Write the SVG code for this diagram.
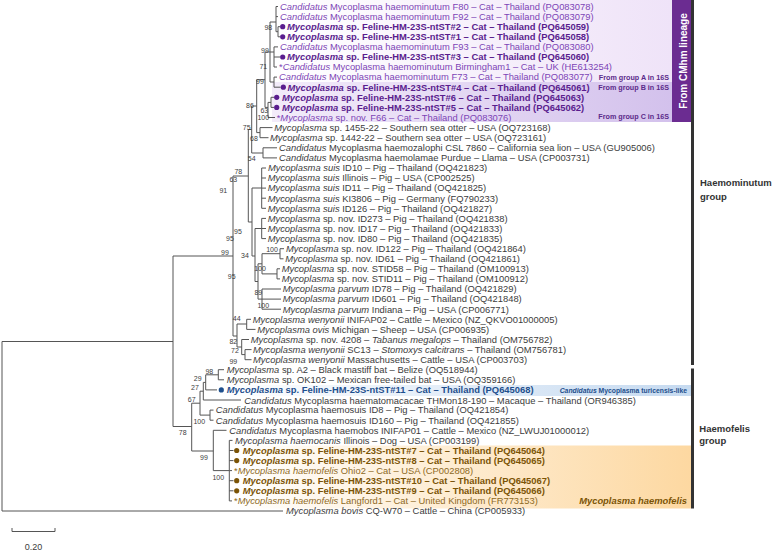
<svg xmlns="http://www.w3.org/2000/svg" width="778" height="552" viewBox="0 0 778 552">
<style>
.t{font-family:"Liberation Sans",Arial,Helvetica,sans-serif;font-size:9.4px;fill:#3c3c3c}
.i{font-style:italic}
.pu{fill:#7d45b6}
.pd{fill:#5a1d8e;font-weight:bold}
.bl{fill:#1e4f8d;font-weight:bold}
.bw{fill:#7b5406;font-weight:bold}
.bn{fill:#8e6a1f}
.bs{font-family:"Liberation Sans",Arial,sans-serif;font-size:7px;fill:#3c3c3c;text-anchor:middle}
.grp{font-family:"Liberation Sans",Arial,sans-serif;font-size:7.2px;font-weight:bold;fill:#5b2a8a;text-anchor:end}
.lab{font-family:"Liberation Sans",Arial,sans-serif;font-size:9.5px;font-weight:bold;fill:#333}
.br{stroke:#555;stroke-width:1;fill:none}
</style>
<defs>
<linearGradient id="gP1" x1="0" x2="1" y1="0" y2="0"><stop offset="0" stop-color="#ffffff"/><stop offset="1" stop-color="#efe3f8"/></linearGradient>
<linearGradient id="gP2" x1="0" x2="1" y1="0" y2="0"><stop offset="0" stop-color="#f3ecfa"/><stop offset="1" stop-color="#d3c1ec"/></linearGradient>
<linearGradient id="gB" x1="0" x2="1" y1="0" y2="0"><stop offset="0" stop-color="#ffffff"/><stop offset="1" stop-color="#c6daf0"/></linearGradient>
<linearGradient id="gO" x1="0" x2="1" y1="0" y2="0"><stop offset="0" stop-color="#ffffff"/><stop offset="1" stop-color="#fdd8a1"/></linearGradient>
</defs>
<g id="backgrounds">
<rect x="272" y="0" width="400" height="82" fill="url(#gP1)"/>
<rect x="272" y="82" width="400" height="40" fill="url(#gP2)"/>
<rect x="216" y="385" width="475" height="11" fill="url(#gB)"/>
<rect x="232" y="445.5" width="459" height="63" fill="url(#gO)"/>
</g>
<g id="connectors" class="br">
<path d="M2 341.5V511H283M2 341.5H173M173 256V426.5"/>
<path d="M173 256H233M233 176V336M233 336H237M237 324V347M237 324H246.7M246.7 319.3V329.4M246.7 319.3H251M246.7 329.4H255.5M237 347H241.7M241.7 339.5V354.6M241.7 339.5H249M241.7 354.6H245M245 349.6V359.7M245 349.6H251.5M245 359.7H251.5"/>
<path d="M233 176H248.3M248.3 129.5V222M248.3 129.5H251.7M251.7 106V153M251.7 106H256.7M256.7 79.7V132.6M256.7 79.7H265M265 52V107.4M265 52H270M270 22V82"/>
<path d="M270 22H276M276 6.5V31.7M276 6.5H278M276 16.6H278M276 31.7H278M278 26.7V36.8M278 26.7H280M278 36.8H280M270 52H274M274 46.9V67M274 46.9H278M274 57H280M274 67H277M270 82H274M274 77.1V87.2M274 77.1H277M274 87.2H280.5"/>
<path d="M265 107.4H268M268 102.4V117.5M268 102.4H271M271 97.3V107.4M271 97.3H274M271 107.4H274M268 117.5H275"/>
<path d="M256.7 132.6H260M260 127.6V137.7M260 127.6H272.5M260 137.7H268.5M251.7 153H263M263 147.8V157.9M263 147.8H277M263 157.9H277"/>
<path d="M248.3 222H252M252 188V256M252 188H261.7M261.7 168V208.3M261.7 168H266M261.7 178H266M261.7 188.1H266M261.7 198.2H266M261.7 208.3H266M252 256H255M255 228.5V281.5M255 228.5H261.7M261.7 218.4V238.6M261.7 218.4H266M261.7 228.5H266M261.7 238.6H266"/>
<path d="M255 281.5H258M258 263.8V299.1M258 263.8H262M262 253.7V273.9M262 253.7H280M280 248.7V258.8M280 248.7H284M280 258.8H283.5M262 273.9H277M277 268.8V278.9M277 268.8H280M277 278.9H280M258 299.1H262M262 289V309.2M262 289H281M262 299.1H281M262 309.2H281"/>
<path d="M173 426.5H191.7M191.7 403.2V451M191.7 403.2H200M200 391.2V415.1M200 391.2H203.3M203.3 382.4V400M203.3 400H241M203.3 382.4H205.7M205.7 374.8V389.9M205.7 389.9H217M205.7 374.8H218.3M218.3 369.7V379.8M218.3 369.7H224M218.3 379.8H224M200 415.1H210M210 410.1V420.2M210 410.1H213.5M210 420.2H213.5"/>
<path d="M191.7 451H213.3M213.3 430.3V470.6M213.3 430.3H226.5M213.3 470.6H229.3M229.3 440.4V500.9M229.3 440.4H232.5M229.3 450.5H233.5M229.3 460.6H233.5M229.3 470.6H232M229.3 480.7H233.5M229.3 490.8H233.5M229.3 500.9H232"/>
</g>
<g id="bootstrap">
<text class="bs" x="268.3" y="30.1">98</text>
<text class="bs" x="265" y="53.1">99</text>
<text class="bs" x="263.3" y="69.1">71</text>
<text class="bs" x="260" y="84.1">99</text>
<text class="bs" x="250" y="107.7">86</text>
<text class="bs" x="264.3" y="113.1">63</text>
<text class="bs" x="263.3" y="120.4">100</text>
<text class="bs" x="246.7" y="129.7">75</text>
<text class="bs" x="254" y="141.1">68</text>
<text class="bs" x="251.7" y="161.1">54</text>
<text class="bs" x="238.3" y="173.7">78</text>
<text class="bs" x="233.3" y="182.4">63</text>
<text class="bs" x="223.3" y="193.1">91</text>
<text class="bs" x="238" y="234.4">95</text>
<text class="bs" x="230" y="241.4">95</text>
<text class="bs" x="225" y="254.7">99</text>
<text class="bs" x="245" y="258.4">34</text>
<text class="bs" x="272" y="252.4">100</text>
<text class="bs" x="260" y="271.1">100</text>
<text class="bs" x="231.7" y="279.4">95</text>
<text class="bs" x="258.3" y="295.1">89</text>
<text class="bs" x="263.3" y="307.7">100</text>
<text class="bs" x="236.7" y="321.4">44</text>
<text class="bs" x="233.3" y="344.4">82</text>
<text class="bs" x="235" y="353.4">72</text>
<text class="bs" x="233.3" y="364.4">99</text>
<text class="bs" x="209.3" y="373.7">98</text>
<text class="bs" x="197.7" y="381.4">29</text>
<text class="bs" x="195" y="390.1">27</text>
<text class="bs" x="191.7" y="401.7">67</text>
<text class="bs" x="199.3" y="424.1">100</text>
<text class="bs" x="182.7" y="435.4">78</text>
<text class="bs" x="204" y="459.7">99</text>
<text class="bs" x="218.3" y="479.7">100</text>
</g>
<g id="leaves-cmhm">
<text class="t pu" x="280" y="9.8"><tspan class="i">Candidatus</tspan> Mycoplasma haemominutum F80 – Cat – Thailand (PQ083078)</text>
<text class="t pu" x="280" y="19.9"><tspan class="i">Candidatus</tspan> Mycoplasma haemominutum F92 – Cat – Thailand (PQ083079)</text>
<circle cx="282.7" cy="26.7" r="2.6" fill="#5a1d8e"/>
<text class="t pd" x="287" y="30"><tspan class="i">Mycoplasma</tspan> sp. Feline-HM-23S-ntST#2 – Cat – Thailand (PQ645059)</text>
<circle cx="282.7" cy="36.8" r="2.6" fill="#5a1d8e"/>
<text class="t pd" x="287" y="40.1"><tspan class="i">Mycoplasma</tspan> sp. Feline-HM-23S-ntST#1 – Cat – Thailand (PQ645058)</text>
<text class="t pu" x="280" y="50.2"><tspan class="i">Candidatus</tspan> Mycoplasma haemominutum F93 – Cat – Thailand (PQ083080)</text>
<circle cx="282.7" cy="57" r="2.6" fill="#5a1d8e"/>
<text class="t pd" x="287" y="60.3"><tspan class="i">Mycoplasma</tspan> sp. Feline-HM-23S-ntST#3 – Cat – Thailand (PQ645060)</text>
<text class="t pu" x="279" y="70.3">*<tspan class="i">Candidatus</tspan> Mycoplasma haemominutum Birmingham1 – Cat – UK (HE613254)</text>
<text class="t pu" x="279" y="80.4"><tspan class="i">Candidatus</tspan> Mycoplasma haemominutum F73 – Cat – Thailand (PQ083077)</text>
<circle cx="283.3" cy="87.2" r="2.6" fill="#5a1d8e"/>
<text class="t pd" x="287.5" y="90.5"><tspan class="i">Mycoplasma</tspan> sp. Feline-HM-23S-ntST#4 – Cat – Thailand (PQ645061)</text>
<circle cx="276.7" cy="97.3" r="2.6" fill="#5a1d8e"/>
<text class="t pd" x="282" y="100.6"><tspan class="i">Mycoplasma</tspan> sp. Feline-HM-23S-ntST#6 – Cat – Thailand (PQ645063)</text>
<circle cx="276.7" cy="107.4" r="2.6" fill="#5a1d8e"/>
<text class="t pd" x="282" y="110.7"><tspan class="i">Mycoplasma</tspan> sp. Feline-HM-23S-ntST#5 – Cat – Thailand (PQ645062)</text>
<text class="t pu" x="276.7" y="120.8">*<tspan class="i">Mycoplasma</tspan> sp. nov. F66 – Cat – Thailand (PQ083076)</text>
<text class="grp" x="669" y="79.7">From group A in 16S</text>
<text class="grp" x="669" y="89.8">From group B in 16S</text>
<text class="grp" x="669" y="118.8">From group C in 16S</text>
</g>
<g id="leaves-haemominutum">
<text class="t" x="274.3" y="130.9"><tspan class="i">Mycoplasma</tspan> sp. 1455-22 – Southern sea otter – USA (OQ723168)</text>
<text class="t" x="270" y="141"><tspan class="i">Mycoplasma</tspan> sp. 1442-22 – Southern sea otter – USA (OQ723161)</text>
<text class="t" x="279" y="151.1"><tspan class="i">Candidatus</tspan> Mycoplasma haemozalophi CSL 7860 – California sea lion – USA (GU905006)</text>
<text class="t" x="279" y="161.2"><tspan class="i">Candidatus</tspan> Mycoplasma haemolamae Purdue – Llama – USA (CP003731)</text>
<text class="t" x="268" y="171.2"><tspan class="i">Mycoplasma suis</tspan> ID10 – Pig – Thailand (OQ421823)</text>
<text class="t" x="267.7" y="181.3"><tspan class="i">Mycoplasma suis</tspan> Illinois – Pig – USA (CP002525)</text>
<text class="t" x="267.7" y="191.4"><tspan class="i">Mycoplasma suis</tspan> ID11 – Pig – Thailand (OQ421825)</text>
<text class="t" x="267.7" y="201.5"><tspan class="i">Mycoplasma suis</tspan> KI3806 – Pig – Germany (FQ790233)</text>
<text class="t" x="267.7" y="211.6"><tspan class="i">Mycoplasma suis</tspan> ID126 – Pig – Thailand (OQ421827)</text>
<text class="t" x="267.7" y="221.7"><tspan class="i">Mycoplasma</tspan> sp. nov. ID273 – Pig – Thailand (OQ421838)</text>
<text class="t" x="267.7" y="231.8"><tspan class="i">Mycoplasma</tspan> sp. nov. ID17 – Pig – Thailand (OQ421833)</text>
<text class="t" x="267.7" y="241.9"><tspan class="i">Mycoplasma</tspan> sp. nov. ID80 – Pig – Thailand (OQ421835)</text>
<text class="t" x="286" y="252"><tspan class="i">Mycoplasma</tspan> sp. nov. ID122 – Pig – Thailand (OQ421864)</text>
<text class="t" x="285.3" y="262.1"><tspan class="i">Mycoplasma</tspan> sp. nov. ID61 – Pig – Thailand (OQ421861)</text>
<text class="t" x="281.7" y="272.1"><tspan class="i">Mycoplasma</tspan> sp. nov. STID58 – Pig – Thailand (OM100913)</text>
<text class="t" x="281.7" y="282.2"><tspan class="i">Mycoplasma</tspan> sp. nov. STID11 – Pig – Thailand (OM100912)</text>
<text class="t" x="282.7" y="292.3"><tspan class="i">Mycoplasma parvum</tspan> ID78 – Pig – Thailand (OQ421829)</text>
<text class="t" x="282.7" y="302.4"><tspan class="i">Mycoplasma parvum</tspan> ID601 – Pig – Thailand (OQ421848)</text>
<text class="t" x="282.7" y="312.5"><tspan class="i">Mycoplasma parvum</tspan> Indiana – Pig – USA (CP006771)</text>
<text class="t" x="252.7" y="322.6"><tspan class="i">Mycoplasma wenyonii</tspan> INIFAP02 – Cattle – Mexico (NZ_QKVO01000005)</text>
<text class="t" x="257.3" y="332.7"><tspan class="i">Mycoplasma ovis</tspan> Michigan – Sheep – USA (CP006935)</text>
<text class="t" x="250.7" y="342.8"><tspan class="i">Mycoplasma</tspan> sp. nov. 4208 – <tspan class="i">Tabanus megalops</tspan> – Thailand (OM756782)</text>
<text class="t" x="253" y="352.9"><tspan class="i">Mycoplasma wenyonii</tspan> SC13 – <tspan class="i">Stomoxys calcitrans</tspan> – Thailand (OM756781)</text>
<text class="t" x="253" y="363"><tspan class="i">Mycoplasma wenyonii</tspan> Massachusetts – Cattle – USA (CP003703)</text>
</g>
<g id="leaves-haemofelis">
<text class="t" x="226.7" y="373"><tspan class="i">Mycoplasma</tspan> sp. A2 – Black mastiff bat – Belize (OQ518944)</text>
<text class="t" x="226.7" y="383.1"><tspan class="i">Mycoplasma</tspan> sp. OK102 – Mexican free-tailed bat – USA (OQ359166)</text>
<circle cx="221.3" cy="389.9" r="2.6" fill="#1e4f8d"/>
<text class="t bl" x="226.7" y="393.2"><tspan class="i">Mycoplasma</tspan> sp. Feline-HM-23S-ntST#11 – Cat – Thailand (PQ645068)</text>
<text class="t" x="244.3" y="403.6"><tspan class="i">Candidatus</tspan> Mycoplasma haematomacacae THMon18-190 – Macaque – Thailand (OR946385)</text>
<text class="t" x="215.7" y="413.4"><tspan class="i">Candidatus</tspan> Mycoplasma haemosuis ID8 – Pig – Thailand (OQ421854)</text>
<text class="t" x="215.7" y="423.5"><tspan class="i">Candidatus</tspan> Mycoplasma haemosuis ID160 – Pig – Thailand (OQ421855)</text>
<text class="t" x="229.3" y="433.6"><tspan class="i">Candidatus</tspan> Mycoplasma haemobos INIFAP01 – Cattle – Mexico (NZ_LWUJ01000012)</text>
<text class="t" x="235" y="443.7"><tspan class="i">Mycoplasma haemocanis</tspan> Illinois – Dog – USA (CP003199)</text>
<circle cx="236.7" cy="450.5" r="2.6" fill="#7b5406"/>
<text class="t bw" x="242.7" y="453.8"><tspan class="i">Mycoplasma</tspan> sp. Feline-HM-23S-ntST#7 – Cat – Thailand (PQ645064)</text>
<circle cx="236.7" cy="460.6" r="2.6" fill="#7b5406"/>
<text class="t bw" x="242.7" y="463.9"><tspan class="i">Mycoplasma</tspan> sp. Feline-HM-23S-ntST#8 – Cat – Thailand (PQ645065)</text>
<text class="t bn" x="234" y="473.9">*<tspan class="i">Mycoplasma haemofelis</tspan> Ohio2 – Cat – USA (CP002808)</text>
<circle cx="236.7" cy="480.7" r="2.6" fill="#7b5406"/>
<text class="t bw" x="242.7" y="484"><tspan class="i">Mycoplasma</tspan> sp. Feline-HM-23S-ntST#10 – Cat – Thailand (PQ645067)</text>
<circle cx="236.7" cy="490.8" r="2.6" fill="#7b5406"/>
<text class="t bw" x="242.7" y="494.1"><tspan class="i">Mycoplasma</tspan> sp. Feline-HM-23S-ntST#9 – Cat – Thailand (PQ645066)</text>
<text class="t bn" x="234" y="504.2">*<tspan class="i">Mycoplasma haemofelis</tspan> Langford1 – Cat – United Kingdom (FR773153)</text>
<text class="t" x="286" y="514.3"><tspan class="i">Mycoplasma bovis</tspan> CQ-W70 – Cattle – China (CP005933)</text>
</g>
<g id="group-labels">
<rect x="672" y="0" width="21" height="122" fill="#6b2c91"/>
<text transform="translate(686.8 61) rotate(-90)" text-anchor="middle" style="font-family:'Liberation Sans',Arial,sans-serif;font-size:10px;font-weight:bold;fill:#fff">From CMhm lineage</text>
<rect x="691" y="0" width="3" height="365" fill="#333"/>
<rect x="691" y="368.5" width="3" height="140" fill="#333"/>
<text class="lab" x="700" y="186.2">Haemominutum</text>
<text class="lab" x="700" y="199.5">group</text>
<text class="lab" x="699.3" y="431.8">Haemofelis</text>
<text class="lab" x="699.3" y="444.2">group</text>
<text x="687" y="393.4" text-anchor="end" style="font-family:'Liberation Sans',Arial,sans-serif;font-size:6.8px;font-weight:bold;fill:#1e4f8d"><tspan class="i">Candidatus</tspan> Mycoplasma turicensis-like</text>
<text x="687" y="504.3" text-anchor="end" style="font-family:'Liberation Sans',Arial,sans-serif;font-size:9.4px;font-weight:bold;font-style:italic;fill:#7b5406">Mycoplasma haemofelis</text>
</g>
<g id="scale">
<path class="br" d="M12 528V531.5M55 528V531.5M12 531.5H55"/>
<text x="33.5" y="550" text-anchor="middle" style="font-family:'Liberation Sans',Arial,sans-serif;font-size:9px;fill:#3c3c3c">0.20</text>
</g>
</svg>
